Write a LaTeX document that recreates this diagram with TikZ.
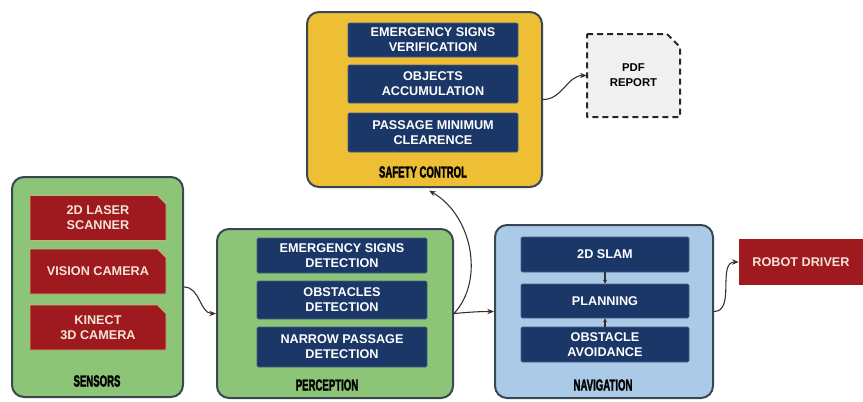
\documentclass[tikz,border=0pt]{standalone}
\usepackage{graphicx}
\usepackage{fontspec}
\setmainfont{Liberation Sans}
\newfontfamily\heavyfont[FakeBold=2.5]{Liberation Sans Bold}
\usetikzlibrary{arrows.meta,shapes.misc}
\definecolor{greenbg}{RGB}{141,197,120}
\definecolor{bluebg}{RGB}{170,202,232}
\definecolor{yellowbg}{RGB}{238,190,52}
\definecolor{navycol}{RGB}{26,55,104}
\definecolor{redcol}{RGB}{158,26,30}
\definecolor{tancol}{RGB}{205,175,120}
\definecolor{redtext}{RGB}{245,228,215}
\definecolor{bordercol}{RGB}{55,72,82}
\definecolor{pdffill}{RGB}{240,240,240}
\definecolor{linecol}{RGB}{55,45,45}
\tikzset{
  outerbox/.style={draw=bordercol, line width=1.5pt, rounded corners=9pt, inner sep=0pt},
  itemtext/.style={font=\bfseries\fontsize{9.5}{11.3}\selectfont, align=center, inner sep=0pt},
  redbox/.style={itemtext, shape=chamfered rectangle, chamfered rectangle corners=north east,
    chamfered rectangle xsep=3.5pt, chamfered rectangle ysep=3pt,
    fill=redcol, draw=tancol, line width=0.6pt, text=redtext,
    minimum width=102pt, minimum height=33.75pt},
  navybox/.style={itemtext, rectangle, fill=navycol, draw=navycol!80!white, line width=0.4pt,
    text=white, rounded corners=1pt},
  lab/.style={font=\heavyfont\fontsize{12}{13}\selectfont, text=black, inner sep=0pt},
  conn/.style={draw=linecol, line width=0.8pt, -{Stealth[length=5pt,width=4pt]}},
  pdfline/.style={draw=black!85, dash pattern=on 4.5pt off 3pt, line width=1.5pt, fill=pdffill, line join=round},
}
\begin{document}
\begin{tikzpicture}[x=0.75pt,y=-0.75pt]
\useasboundingbox (0,0) rectangle (863,401);
% sensors
\node[outerbox, fill=greenbg, minimum width=128.25pt, minimum height=165pt] (sensors) at (97.5,287) {};
\node[redbox] (laser) at (98,218) {2D LASER\\SCANNER};
\node[redbox] (vision) at (98,271.5) {VISION CAMERA};
\node[redbox] (kinect) at (98,327.5) {KINECT\\3D CAMERA};
\node[lab] (senslab) at (97,381) {\scalebox{0.6}[1]{SENSORS}};
% perception
\node[outerbox, fill=greenbg, minimum width=177pt, minimum height=126.75pt] (perc) at (335,313.5) {};
\node[navybox, minimum width=127.5pt, minimum height=26.25pt] (esd) at (342,255.5) {EMERGENCY SIGNS\\DETECTION};
\node[navybox, minimum width=127.5pt, minimum height=28.5pt] (obd) at (342,300) {OBSTACLES\\DETECTION};
\node[navybox, minimum width=127.5pt, minimum height=30pt] (npd) at (342,347) {NARROW PASSAGE\\DETECTION};
\node[lab] (perclab) at (327,385) {\scalebox{0.6}[1]{PERCEPTION}};
% navigation
\node[outerbox, fill=bluebg, minimum width=163.5pt, minimum height=129.75pt] (nav) at (604,311.5) {};
\node[navybox, minimum width=126pt, minimum height=26.25pt] (slam) at (605,254.5) {2D SLAM};
\node[navybox, minimum width=126pt, minimum height=25.5pt] (plan) at (605,301) {PLANNING};
\node[navybox, minimum width=126pt, minimum height=26.25pt] (avoid) at (605,344.5) {OBSTACLE\\AVOIDANCE};
\node[lab] (navlab) at (603,385) {\scalebox{0.6}[1]{NAVIGATION}};
% robot driver
\node[itemtext, rectangle, fill=redcol, text=redtext, minimum width=93pt, minimum height=34.5pt] (robot) at (801,262) {ROBOT DRIVER};
% safety control
\node[outerbox, fill=yellowbg, minimum width=176.25pt, minimum height=131.25pt] (safety) at (424.5,99.5) {};
\node[navybox, minimum width=127.5pt, minimum height=25.5pt] (esv) at (433,40) {EMERGENCY SIGNS\\VERIFICATION};
\node[navybox, minimum width=127.5pt, minimum height=28.5pt] (oba) at (433,84) {OBJECTS\\ACCUMULATION};
\node[navybox, minimum width=127.5pt, minimum height=29.25pt] (pmc) at (433,132.5) {PASSAGE MINIMUM\\CLEARENCE};
\node[lab] (safelab) at (423,172) {\scalebox{0.6}[1]{SAFETY CONTROL}};
% pdf report
\path[pdfline] (587,34) -- (667,34) -- (680,47) -- (680,117) -- (587,117) -- cycle;
\node[rectangle, minimum width=69.75pt, minimum height=62.25pt, inner sep=0pt,
  font=\bfseries\fontsize{8.5}{11.3}\selectfont, align=center] (pdf) at (633.5,75.5) {PDF\\REPORT};
% connectors
\draw[conn] (sensors.east) to[out=0,in=180] (perc.west);
\draw[conn] (perc.east) to[out=5,in=180] (nav.west);
\draw[conn, shorten >=4pt] (perc.east) .. controls (485,280) and (472,215) .. (safety.south);
\draw[conn] (nav.east) to[out=0,in=180] (robot.west);
\draw[conn] (safety.east) to[out=0,in=180] (pdf.west);
\draw[conn, -{Stealth[length=3pt,width=3pt]}] (slam.south) -- (plan.north);
\draw[conn, -{Stealth[length=3pt,width=3pt]}] (avoid.north) -- (plan.south);
\end{tikzpicture}
\end{document}
